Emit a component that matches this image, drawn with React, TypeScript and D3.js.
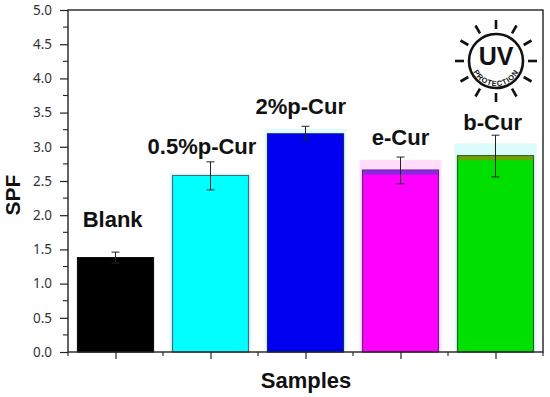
import React, { useEffect, useRef } from "react";
import * as d3 from "d3";

const categories = ["Blank", "0.5%p-Cur", "2%p-Cur", "e-Cur", "b-Cur"];
const spf = [1.38, 2.58, 3.19, 2.66, 2.87];
const errLow = [1.3, 2.37, 3.1, 2.46, 2.56];
const errHigh = [1.46, 2.78, 3.3, 2.85, 3.17];
const barColors = ["#000000", "#00ffff", "#0000f0", "#ff00ff", "#00e000"];
const barEdges = ["#111111", "#4a6a78", "#20207a", "#5a2a80", "#2a5a20"];
const topBands = ["#000000", "#00ffff", "#0000f0", "#8a28e8", "#6fa000"];
const haloColors = ["none", "#dffcfc", "#dffcfc", "#ffddfb", "#dcfcfc"];
const haloLift = [0, 0.04, 0.07, 0.15, 0.18];
const yTicks = [0, 0.5, 1, 1.5, 2, 2.5, 3, 3.5, 4, 4.5, 5];
const yMinor = [0.25, 0.75, 1.25, 1.75, 2.25, 2.75, 3.25, 3.75, 4.25, 4.75];
const xMinor = [0.5, 1.5, 2.5, 3.5, 4.5, 5.5];
// label anchor, read as a position on the two axes
const labelX = [0.97, 1.91, 2.95, 4.0, 4.97];
const labelY = [1.83, 2.9, 3.48, 3.03, 3.25];

const width = 550;
const height = 397;
const margin = { top: 10, right: 7, bottom: 45, left: 68 };

function App() {
  const svgRef = useRef<SVGSVGElement>(null);

  useEffect(() => {
    const svg = d3.select(svgRef.current);
    svg.selectAll("*").remove();

    const x = d3.scaleLinear().domain([0.5, 5.5]).range([margin.left, width - margin.right]);
    const y = d3.scaleLinear().domain([0, 5]).range([height - margin.bottom, margin.top]);
    const barW = (x(2) - x(1)) * 0.8;
    const idx = d3.range(categories.length);

    // pale halos round the bar tops
    svg.append("g").selectAll("rect").data(idx).join("rect")
      .attr("x", (i) => x(i + 1) - barW / 2 - 3)
      .attr("width", barW + 6)
      .attr("y", (i) => y(spf[i] + haloLift[i]))
      .attr("height", (i) => y(0) - y(spf[i] + haloLift[i]))
      .attr("fill", (i) => haloColors[i]);

    // bars
    svg.append("g").selectAll("rect").data(idx).join("rect")
      .attr("x", (i) => x(i + 1) - barW / 2)
      .attr("width", barW)
      .attr("y", (i) => y(spf[i]))
      .attr("height", (i) => y(0) - y(spf[i]))
      .attr("fill", (i) => barColors[i])
      .attr("stroke", (i) => barEdges[i])
      .attr("stroke-width", 1.2);

    svg.append("g").selectAll("rect").data(idx).join("rect")
      .attr("x", (i) => x(i + 1) - barW / 2 + 0.6)
      .attr("width", barW - 1.2)
      .attr("y", (i) => y(spf[i]) + 0.6)
      .attr("height", 4)
      .attr("fill", (i) => topBands[i]);

    // error bars
    const err = svg.append("g").attr("stroke", "#222").attr("stroke-width", 1).attr("fill", "none");
    idx.forEach((i) => {
      const cx = x(i + 1);
      err.append("line").attr("x1", cx).attr("x2", cx).attr("y1", y(errLow[i])).attr("y2", y(errHigh[i]));
      err.append("line").attr("x1", cx - 4).attr("x2", cx + 4).attr("y1", y(errHigh[i])).attr("y2", y(errHigh[i]));
      err.append("line").attr("x1", cx - 4).attr("x2", cx + 4).attr("y1", y(errLow[i])).attr("y2", y(errLow[i]));
    });

    // frame
    svg.append("rect")
      .attr("x", x(0.5)).attr("y", y(5))
      .attr("width", x(5.5) - x(0.5)).attr("height", y(0) - y(5))
      .attr("fill", "none").attr("stroke", "#222").attr("stroke-width", 1.4);

    // y axis
    const yAxis = svg.append("g").attr("transform", `translate(${margin.left},0)`)
      .call(d3.axisLeft(y).tickValues(yTicks).tickFormat(d3.format(".1f")).tickSize(8).tickPadding(8));
    yAxis.select(".domain").remove();
    yAxis.selectAll("line").attr("stroke", "#222").attr("stroke-width", 1.2);
    yAxis.selectAll("text").attr("font-family", "'Noto Sans'").attr("font-size", 13.5).attr("fill", "#333");

    svg.append("g").selectAll("line").data(yMinor).join("line")
      .attr("x1", margin.left - 5).attr("x2", margin.left)
      .attr("y1", (d) => y(d)).attr("y2", (d) => y(d))
      .attr("stroke", "#222").attr("stroke-width", 1.1);

    // x ticks
    const xAxis = svg.append("g").attr("transform", `translate(0,${y(0)})`)
      .call(d3.axisBottom(x).tickValues(d3.range(1, 6)).tickFormat(() => "").tickSize(7));
    xAxis.select(".domain").remove();
    xAxis.selectAll("line").attr("stroke", "#222").attr("stroke-width", 1.2);

    svg.append("g").selectAll("line").data(xMinor).join("line")
      .attr("x1", (d) => x(d)).attr("x2", (d) => x(d))
      .attr("y1", y(0)).attr("y2", y(0) + 4)
      .attr("stroke", "#222").attr("stroke-width", 1.1);

    // bar labels
    svg.append("g").selectAll("text").data(idx).join("text")
      .attr("x", (i) => x(labelX[i]))
      .attr("y", (i) => y(labelY[i]))
      .attr("text-anchor", "middle")
      .attr("font-family", "'Liberation Sans'")
      .attr("font-weight", "bold")
      .attr("font-size", 22)
      .attr("fill", "#111")
      .text((i) => categories[i]);

    // axis titles
    svg.append("text")
      .attr("x", 306).attr("y", 388)
      .attr("text-anchor", "middle")
      .attr("font-family", "'Liberation Sans'").attr("font-weight", "bold").attr("font-size", 22)
      .attr("fill", "#111").text("Samples");
    svg.append("text")
      .attr("transform", "translate(20,195) rotate(-90)")
      .attr("text-anchor", "middle")
      .attr("font-family", "'Liberation Sans'").attr("font-weight", "bold").attr("font-size", 21)
      .attr("fill", "#111").text("SPF");

    // UV protection badge
    const cx = 496, cy = 61, r = 27;
    const uv = svg.append("g").attr("transform", `translate(${cx},${cy})`);
    uv.append("circle").attr("r", r).attr("fill", "#fff").attr("stroke", "#111").attr("stroke-width", 2.6);
    d3.range(12).forEach((k) => {
      const a = (k * Math.PI) / 6;
      uv.append("line")
        .attr("x1", 32 * Math.cos(a)).attr("y1", 32 * Math.sin(a))
        .attr("x2", 41 * Math.cos(a)).attr("y2", 41 * Math.sin(a))
        .attr("stroke", "#111").attr("stroke-width", 2.6);
    });
    uv.append("text")
      .attr("y", 4).attr("text-anchor", "middle")
      .attr("font-family", "'Liberation Sans'").attr("font-weight", "bold").attr("font-size", 25)
      .attr("fill", "#111").text("UV");
    uv.append("path").attr("id", "uvArc").attr("fill", "none")
      .attr("d", "M -25 0 A 25 25 0 0 0 25 0");
    uv.append("text")
      .attr("font-family", "'Liberation Sans'").attr("font-weight", "bold").attr("font-size", 7.5)
      .attr("letter-spacing", 0.7)
      .attr("fill", "#111")
      .append("textPath").attr("href", "#uvArc").attr("startOffset", "50%").attr("text-anchor", "middle")
      .text("PROTECTION");
  }, []);

  return (
    <svg
      ref={svgRef}
      width={width}
      height={height}
      style={{ position: "absolute", left: 0, top: 0, background: "#fff" }}
    />
  );
}

export default App;
